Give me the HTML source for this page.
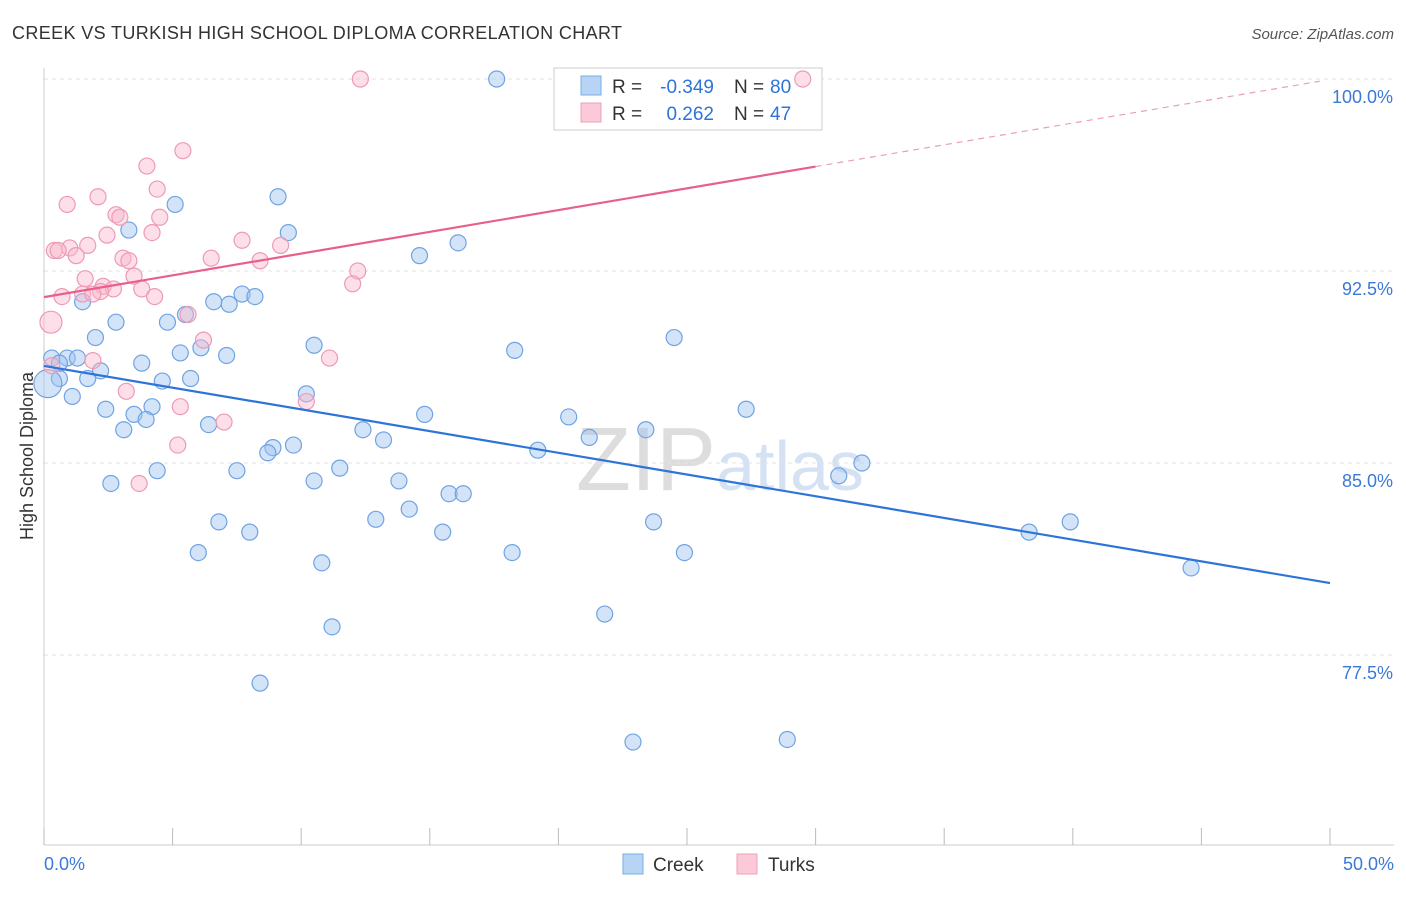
<!DOCTYPE html>
<html><head><meta charset="utf-8"><style>
body{margin:0;background:#fff;font-family:"Liberation Sans",sans-serif;}
svg text{font-family:"Liberation Sans",sans-serif;}
</style></head><body>
<svg id="chart" width="1406" height="892" xmlns="http://www.w3.org/2000/svg">
<text x="12" y="39" font-size="18" fill="#333" textLength="610">CREEK VS TURKISH HIGH SCHOOL DIPLOMA CORRELATION CHART</text>
<text x="1394" y="39" font-size="15" fill="#555" font-style="italic" text-anchor="end">Source: ZipAtlas.com</text>
<text x="33" y="456" font-size="18" fill="#333" text-anchor="middle" transform="rotate(-90 33 456)">High School Diploma</text>
<text x="720" y="490" font-size="90" fill="#ddd" text-anchor="middle" font-family="Liberation Serif">ZIP<tspan fill="#d5e2f3" font-family="Liberation Sans" font-size="70">atlas</tspan></text>
<g id="grid"></g><g id="axes"></g>
<g>
<rect x="554" y="68" width="268" height="62" fill="#fff" stroke="#ccc"/>
<rect x="581" y="76" width="20" height="19" fill="#b8d4f4" stroke="#7aaee6"/>
<rect x="581" y="103" width="20" height="19" fill="#fbc9d8" stroke="#f0a0b8"/>
<text x="612" y="93" font-size="19" fill="#333">R =</text>
<text x="714" y="93" font-size="19" fill="#2d74d9" text-anchor="end">-0.349</text>
<text x="734" y="93" font-size="19" fill="#333">N =</text>
<text x="770" y="93" font-size="19" fill="#2d74d9">80</text>
<text x="612" y="120" font-size="19" fill="#333">R =</text>
<text x="714" y="120" font-size="19" fill="#2d74d9" text-anchor="end">0.262</text>
<text x="734" y="120" font-size="19" fill="#333">N =</text>
<text x="770" y="120" font-size="19" fill="#2d74d9">47</text>
</g>
<g id="pts"></g><g id="lines"></g>
<g>
<rect x="623" y="854" width="20" height="20" fill="#b8d4f4" stroke="#7aaee6"/>
<text x="653" y="871" font-size="19" fill="#333">Creek</text>
<rect x="737" y="854" width="20" height="20" fill="#fbc9d8" stroke="#f0a0b8"/>
<text x="768" y="871" font-size="19" fill="#333">Turks</text>
</g>
</svg>
<script>
const yTicks=[100,92.5,85,77.5];
const yTickLabels=["100.0%","92.5%","85.0%","77.5%"];
const creekX=[17.6,9.1,5.1,3.3,9.5,16.1,14.6,7.7,8.2,6.6,7.2,1.5,5.5,2.8,4.8,2.0,24.5,10.5,6.1,5.3,7.1,18.3,0.3,0.9,1.3,3.8,2.2,1.7,0.6,4.6,5.7,10.2,1.1,2.4,3.5,4.2,27.3,14.8,3.97,20.4,3.1,6.4,12.4,23.4,13.2,21.2,9.7,8.9,8.7,19.2,31.8,4.4,7.5,11.5,30.9,2.6,10.5,13.8,15.75,16.3,14.2,12.9,6.8,23.7,39.9,8.0,15.5,38.3,6.0,18.2,24.9,10.8,44.6,21.8,11.2,8.4,22.9,28.9,0.15,0.6];
const creekY=[100,95.4,95.1,94.1,94.0,93.6,93.1,91.6,91.5,91.3,91.2,91.3,90.8,90.5,90.5,89.9,89.9,89.6,89.5,89.3,89.2,89.4,89.1,89.1,89.1,88.9,88.6,88.3,88.3,88.2,88.3,87.7,87.6,87.1,86.9,87.2,87.1,86.9,86.7,86.8,86.3,86.5,86.3,86.3,85.9,86.0,85.7,85.6,85.4,85.5,85.0,84.7,84.7,84.8,84.5,84.2,84.3,84.3,83.8,83.8,83.2,82.8,82.7,82.7,82.7,82.3,82.3,82.3,81.5,81.5,81.5,81.1,80.9,79.1,78.6,76.4,74.1,74.2,88.1,88.9];
const turksX=[12.3,29.5,5.4,4.0,4.4,0.9,2.1,2.8,2.95,4.5,4.2,2.45,7.7,9.2,1.7,0.4,1.0,0.55,1.25,6.5,3.07,8.4,3.3,3.5,12.2,1.6,12.0,2.3,2.7,2.2,0.7,3.8,4.3,1.5,5.6,0.27,6.2,11.1,1.9,0.3,3.2,10.2,5.3,7.0,5.2,3.7,1.9];
const turksY=[100,100,97.2,96.6,95.7,95.1,95.4,94.7,94.6,94.6,94.0,93.9,93.7,93.5,93.5,93.3,93.4,93.3,93.1,93.0,93.0,92.9,92.9,92.3,92.5,92.2,92.0,91.9,91.8,91.7,91.5,91.8,91.5,91.6,90.8,90.5,89.8,89.1,89.0,88.8,87.8,87.4,87.2,86.6,85.7,84.2,91.6];
const creekLine=[88.79,80.31], turksLine=[91.48,99.98];
const X=v=>44+v/50*1286, Y=v=>79+(100-v)*25.6;
const NS="http://www.w3.org/2000/svg";
function mk(p,t,a){const e=document.createElementNS(NS,t);for(const k in a)e.setAttribute(k,a[k]);document.getElementById(p).appendChild(e);return e;}
yTicks.forEach((t,i)=>{
 const g=mk('grid','line',{x1:44,x2:1394,y1:Y(t),y2:Y(t),stroke:'#e3e3e3','stroke-dasharray':'4,4'});
 
 
 const l=mk('axes','text',{x:1393,y:Y(t)+24,'font-size':18,fill:'#3b78d8','text-anchor':'end'});l.textContent=yTickLabels[i];
 
 
});
mk('axes','line',{x1:44,x2:44,y1:68,y2:845,stroke:'#ccc'});
mk('axes','line',{x1:44,x2:1394,y1:845,y2:845,stroke:'#ccc'});
for(let i=0;i<=10;i++){const t=mk('axes','line',{x1:X(i*5),x2:X(i*5),y1:828,y2:845,stroke:'#bbb'});
 
 }
let a=mk('axes','text',{x:44,y:870,'font-size':18,fill:'#3b78d8'});a.textContent='0.0%';

a=mk('axes','text',{x:1394,y:870,'font-size':18,fill:'#3b78d8','text-anchor':'end'});a.textContent='50.0%';

creekX.forEach((x,i)=>{const c=mk('pts','circle',{cx:X(x),cy:Y(creekY[i]),r:i==78?14:8,fill:'rgba(160,196,240,0.45)',stroke:'#6fa3e3','stroke-width':1.2});
 
 });
turksX.forEach((x,i)=>{const c=mk('pts','circle',{cx:X(x),cy:Y(turksY[i]),r:i==35?11:8,fill:'rgba(248,184,204,0.45)',stroke:'#ee9ab5','stroke-width':1.2});
 
 });
let l=mk('lines','line',{x1:X(0),y1:Y(creekLine[0]),x2:X(50),y2:Y(creekLine[1]),stroke:'#2d74d9','stroke-width':2.2});


const tp=x=>turksLine[0]+(turksLine[1]-turksLine[0])*x/50;
l=mk('lines','line',{x1:X(0),y1:Y(tp(0)),x2:X(30),y2:Y(tp(30)),stroke:'#e8608a','stroke-width':2.2});


l=mk('lines','line',{x1:X(30),y1:Y(tp(30)),x2:X(49.6),y2:Y(tp(49.6)),stroke:'#e8a0b6','stroke-width':1.2,'stroke-dasharray':'6,5'});


</script>
</body></html>
